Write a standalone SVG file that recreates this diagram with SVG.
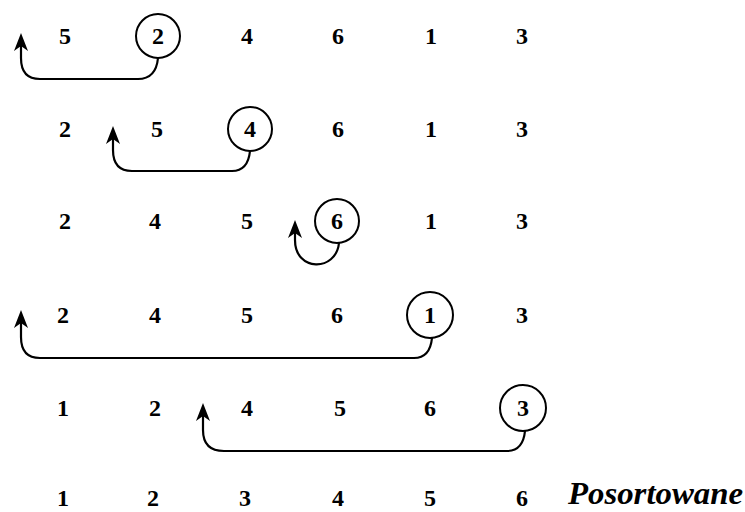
<svg xmlns="http://www.w3.org/2000/svg" width="745" height="512" viewBox="0 0 745 512">
<style>
.n{font-family:"Liberation Serif","Times New Roman",serif;font-size:24px;font-weight:bold;fill:#000;text-anchor:middle}
.c{fill:none;stroke:#000;stroke-width:2}
.a{fill:none;stroke:#000;stroke-width:2.2}
.t{font-family:"Liberation Serif","Times New Roman",serif;font-size:31px;font-weight:bold;font-style:italic;fill:#000}
</style>
<defs>
<marker id="ah" viewBox="0 0 18 14" refX="5" refY="7" markerWidth="18" markerHeight="14" markerUnits="userSpaceOnUse" orient="auto">
<path d="M0,0 L18,7 L0,14 L5,7 Z" fill="#000"/>
</marker>
</defs>
<rect width="745" height="512" fill="#fff"/>
<g id="row1">
<text class="n" x="65" y="44">5</text>
<circle class="c" cx="158" cy="36" r="22"/>
<text class="n" x="158" y="44">2</text>
<text class="n" x="247" y="44">4</text>
<text class="n" x="338" y="44">6</text>
<text class="n" x="431" y="44">1</text>
<text class="n" x="522" y="44">3</text>
</g>
<g id="row2">
<text class="n" x="65" y="137">2</text>
<text class="n" x="157" y="137">5</text>
<circle class="c" cx="250" cy="129" r="22"/>
<text class="n" x="250" y="137">4</text>
<text class="n" x="338" y="137">6</text>
<text class="n" x="431" y="137">1</text>
<text class="n" x="522" y="137">3</text>
</g>
<g id="row3">
<text class="n" x="65" y="229">2</text>
<text class="n" x="155" y="229">4</text>
<text class="n" x="247" y="229">5</text>
<circle class="c" cx="337" cy="221" r="22"/>
<text class="n" x="337" y="229">6</text>
<text class="n" x="431" y="229">1</text>
<text class="n" x="522" y="229">3</text>
</g>
<g id="row4">
<text class="n" x="63" y="323">2</text>
<text class="n" x="155" y="323">4</text>
<text class="n" x="247" y="323">5</text>
<text class="n" x="337" y="323">6</text>
<circle class="c" cx="430" cy="315" r="23"/>
<text class="n" x="430" y="323">1</text>
<text class="n" x="522" y="323">3</text>
</g>
<g id="row5">
<text class="n" x="63" y="416">1</text>
<text class="n" x="155" y="416">2</text>
<text class="n" x="247" y="416">4</text>
<text class="n" x="340" y="416">5</text>
<text class="n" x="430" y="416">6</text>
<circle class="c" cx="523" cy="408" r="23"/>
<text class="n" x="523" y="416">3</text>
</g>
<g id="row6">
<text class="n" x="63" y="506">1</text>
<text class="n" x="153" y="506">2</text>
<text class="n" x="245" y="506">3</text>
<text class="n" x="338" y="506">4</text>
<text class="n" x="430" y="506">5</text>
<text class="n" x="522" y="506">6</text>
<text class="t" x="568" y="504" textLength="175" lengthAdjust="spacingAndGlyphs">Posortowane</text>
</g>
<g id="connectors">
<path class="a" d="M158,58 Q156,79 138,79 L40,79 Q21,79 21,58 L21,46" marker-end="url(#ah)"/>
<path class="a" d="M250,151 Q248,171 232,171 L132,171 Q113,171 113,150 L113,139" marker-end="url(#ah)"/>
<path class="a" d="M339,243 C336,272 295,272 295,240 L295,233" marker-end="url(#ah)"/>
<path class="a" d="M432,338 Q430,358 414,358 L40,358 Q21,358 21,337 L21,323" marker-end="url(#ah)"/>
<path class="a" d="M525,431 Q523,451 507,451 L224,451 Q203,451 203,430 L203,416" marker-end="url(#ah)"/>
</g>
</svg>
